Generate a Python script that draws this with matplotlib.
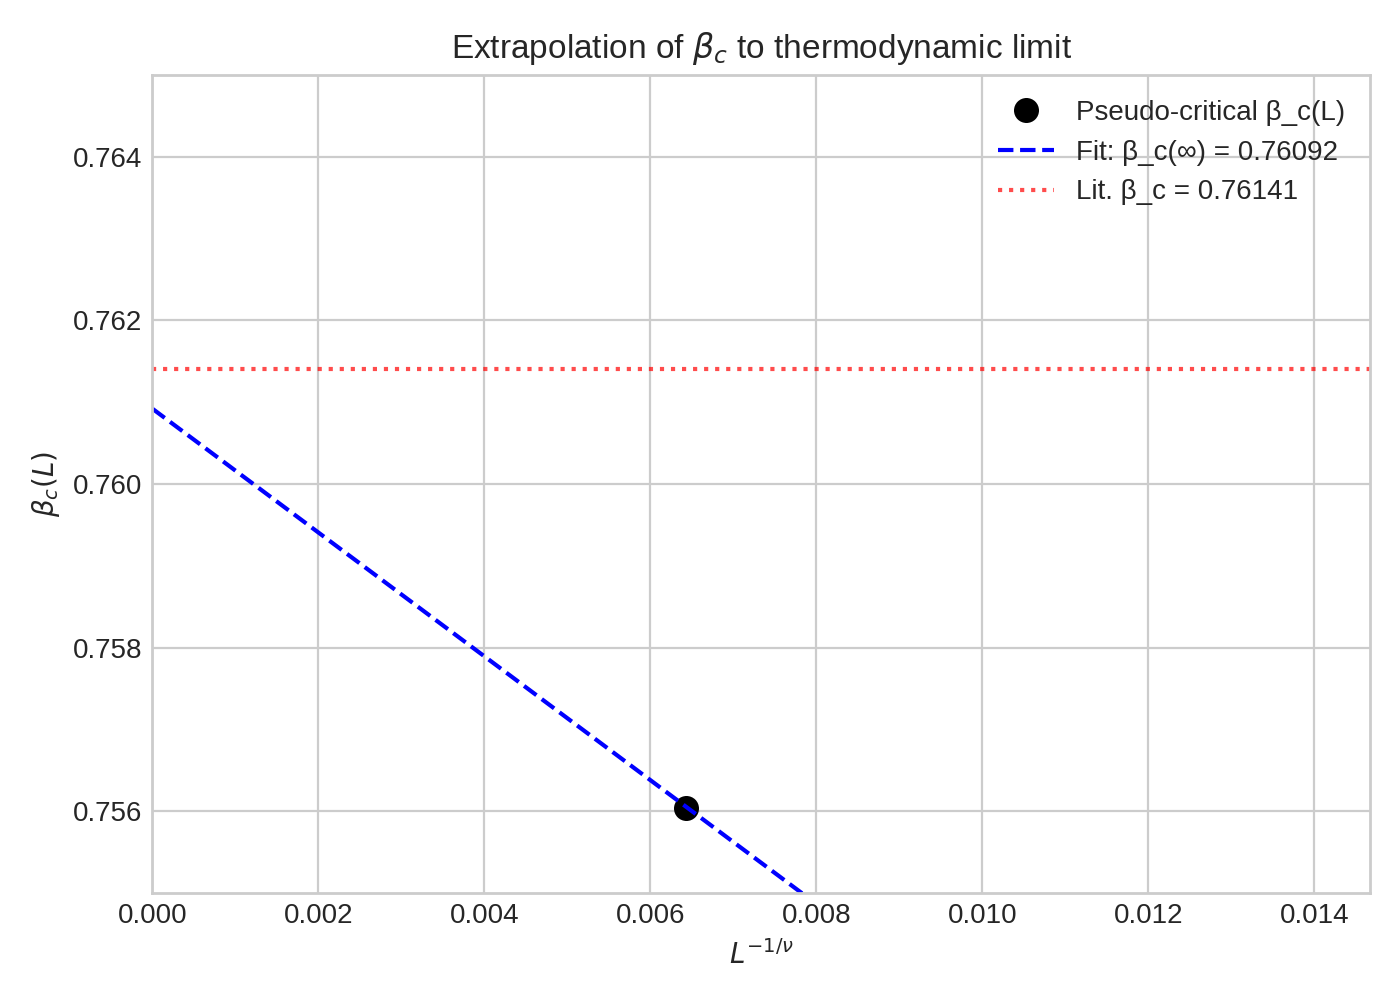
import numpy as np
import matplotlib
matplotlib.use("Agg")
import matplotlib.pyplot as plt

# Data
L_inv_nu = [0.00643]
beta_c_L = [0.75604]
fit_intercept = 0.76092
fit_slope = -0.7563
lit_beta_c = 0.76141
x_range = [0.0, 0.01467]
y_range = [0.755, 0.765]

plt.style.use("seaborn-v0_8-whitegrid")
plt.rcParams["font.family"] = ["Liberation Sans", "DejaVu Sans"]

fig, ax = plt.subplots(figsize=(7, 5), dpi=200)

ax.plot(L_inv_nu, beta_c_L, "o", color="black", markersize=8,
        label="Pseudo-critical β_c(L)")
xfit = np.array(x_range)
ax.plot(xfit, fit_intercept + fit_slope * xfit, "--", color="blue", linewidth=1.5,
        label=f"Fit: β_c(∞) = {fit_intercept:.5f}")
ax.axhline(lit_beta_c, color="red", linestyle=":", linewidth=1.5, alpha=0.7,
           label=f"Lit. β_c = {lit_beta_c:.5f}")

ax.set_xlim(*x_range)
ax.set_ylim(*y_range)
ax.set_xlabel(r"$L^{-1/\nu}$")
ax.set_ylabel(r"$\beta_c(L)$")
ax.set_title(r"Extrapolation of $\beta_c$ to thermodynamic limit")
ax.legend(loc="upper right")

fig.tight_layout()
fig.savefig("out.png", dpi=200)
